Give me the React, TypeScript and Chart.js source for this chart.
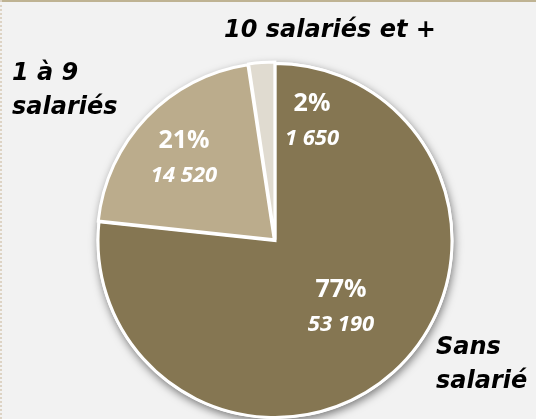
import React, { useEffect, useRef } from "react";
import { Chart, registerables } from "chart.js";

Chart.register(...registerables);

const categories = ["Sans salarié", "1 à 9 salariés", "10 salariés et +"];
const values = [53190, 14520, 1650];
const sliceColors = ["#857652", "#BBAC8C", "#E0DBD0"];
const sliceOffsets = [0, 4, 3];
// outer category labels, split in lines
const outerLabelLines = [["Sans", "salarié"], ["1 à 9", "salariés"], ["10 salariés et +"]];
// label anchors (px): [x, y of first baseline, align]
const outerLabelPos: [number, number, CanvasTextAlign][] = [
  [436, 354, "left"],
  [12, 80, "left"],
  [330, 37, "center"],
];
const innerLabelPos: [number, number][] = [
  [341, 297],
  [184, 148],
  [312, 111],
];

const fmt = (n: number) => String(n).replace(/\B(?=(\d{3})+(?!\d))/g, " ");

const labelPlugin = {
  id: "labelPlugin",
  beforeDatasetsDraw(chart: any) {
    const meta = chart.getDatasetMeta(0);
    const arc = meta.data[0];
    if (!arc) return;
    const ctx = chart.ctx;
    ctx.save();
    ctx.shadowColor = "rgba(0,0,0,0.5)";
    ctx.shadowBlur = 8;
    ctx.shadowOffsetX = 1;
    ctx.shadowOffsetY = 3;
    ctx.fillStyle = "#ffffff";
    ctx.beginPath();
    ctx.arc(arc.x, arc.y, arc.outerRadius + 1.5, 0, Math.PI * 2);
    ctx.fill();
    ctx.restore();
  },
  afterDatasetsDraw(chart: any) {
    const ctx = chart.ctx;
    const total = values.reduce((a, b) => a + b, 0);
    ctx.save();
    values.forEach((v, i) => {
      const [x, y] = innerLabelPos[i];
      ctx.fillStyle = "#ffffff";
      ctx.textAlign = "center";
      ctx.textBaseline = "alphabetic";
      ctx.font = "bold 25px 'Open Sans'";
      ctx.fillText(Math.round((v / total) * 100) + "%", x, y);
      ctx.font = "italic bold 22px 'Open Sans'";
      ctx.fillText(fmt(v), x, y + 34);
    });
    outerLabelLines.forEach((lines, i) => {
      const [x, y, align] = outerLabelPos[i];
      ctx.fillStyle = "#000000";
      ctx.textAlign = align;
      ctx.font = "oblique bold 24px 'DejaVu Sans'";
      lines.forEach((ln, j) => ctx.fillText(ln, x, y + j * 34));
    });
    ctx.restore();
  },
};

export default function App() {
  const ref = useRef<HTMLCanvasElement>(null);
  useEffect(() => {
    if (!ref.current) return;
    const chart = new Chart(ref.current, {
      type: "pie",
      data: {
        labels: categories,
        datasets: [
          {
            data: values,
            backgroundColor: sliceColors,
            borderColor: "#ffffff",
            borderWidth: 3,
            offset: sliceOffsets,
            borderJoinStyle: "miter",
          } as any,
        ],
      },
      options: {
        responsive: false,
        animation: false,
        devicePixelRatio: 1,
        layout: { padding: { top: 60, left: 14, right: 0, bottom: 19 } },
        plugins: { legend: { display: false }, tooltip: { enabled: false }, title: { display: false } },
      },
      plugins: [labelPlugin],
    });
    return () => chart.destroy();
  }, []);
  return (
    <div
      style={{
        position: "fixed",
        left: 0,
        top: 0,
        width: 536,
        height: 419,
        overflow: "hidden",
        background: "#f2f2f2",
        boxSizing: "border-box",
      }}
    >
      <div style={{ position: "absolute", left: 0, top: 0, width: 536, height: 2, background: "#bfb393" }} />
      <div style={{ position: "absolute", left: 0, top: 0, width: 0, height: 419, borderLeft: "2px dotted #ddd3c4" }} />
      <canvas ref={ref} width={536} height={440} style={{ position: "absolute", left: 0, top: 0 }} />
    </div>
  );
}
